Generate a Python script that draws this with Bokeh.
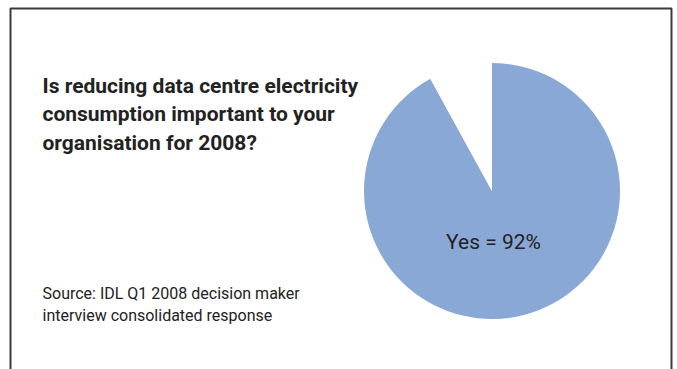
import math
from bokeh.plotting import figure
from bokeh.models import BoxAnnotation, ColumnDataSource
from bokeh.core.properties import value
from bokeh.embed import file_html
from bokeh.resources import INLINE

# ---- data ----
categories = ["Yes", "No"]
shares = [92, 8]
slice_colors = ["#8aa8d6", "#ffffff"]
title_lines = [
    "Is reducing data centre electricity",
    "consumption important to your",
    "organisation for 2008?",
]
source_lines = [
    "Source: IDL Q1 2008 decision maker",
    "interview consolidated response",
]
pie_label = "Yes = 92%"

W, H = 677, 369
FONT = "Roboto"

p = figure(width=W, height=H, x_range=(0, W), y_range=(0, H),
           output_backend="svg", toolbar_location=None, min_border=0)
p.axis.visible = False
p.grid.visible = False
p.outline_line_color = None
p.background_fill_color = "white"
p.border_fill_color = "white"

# open-bottom frame (bottom edge lies below the visible area)
p.add_layout(BoxAnnotation(left=10, right=671, top=H - 8, bottom=-20,
                           fill_alpha=0, line_color="#3a3a3a", line_alpha=1.0, line_width=2))

# pie wedges, clockwise from 12 o'clock
total = sum(shares)
starts, ends = [], []
a = math.pi / 2
for s in shares:
    starts.append(a)
    a -= s / total * 2 * math.pi
    ends.append(a)
src = ColumnDataSource(dict(cat=categories, v=shares, start=starts, end=ends, color=slice_colors))
cx, cy, r = 491.5, H - 190.5, 128
p.wedge(x=cx, y=cy, radius=r, start_angle="start", end_angle="end", direction="clock",
        fill_color="color", line_color=None, source=src)

p.text(x=[493], y=[H - 241], text=[pie_label], text_font=value(FONT), text_font_size="21px",
       text_align="center", text_baseline="alphabetic", text_color="#222222")

# title
p.text(x=[42] * 3, y=[H - 85, H - 113, H - 142], text=title_lines, text_font=value(FONT),
       text_font_size="21px", text_font_style="bold", text_color="#222222",
       text_align="left", text_baseline="alphabetic")

# source
p.text(x=[42] * 2, y=[H - 293, H - 315], text=source_lines, text_font=value(FONT),
       text_font_size="16px", text_color="#222222",
       text_align="left", text_baseline="alphabetic")

open("out.html", "w").write(file_html(p, INLINE))
